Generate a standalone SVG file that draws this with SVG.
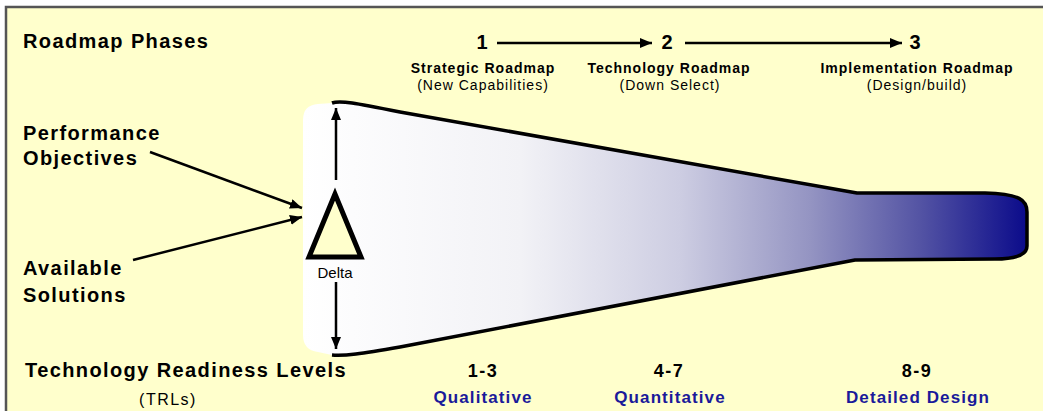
<svg xmlns="http://www.w3.org/2000/svg" width="1043" height="411" viewBox="0 0 1043 411">
<style>
.h{font-family:"Liberation Sans",Arial,sans-serif;font-weight:bold;font-size:20px;letter-spacing:1.4px;fill:#000}
.num{font-family:"Liberation Sans",Arial,sans-serif;font-weight:bold;font-size:20px;fill:#000;text-anchor:middle}
.sb{font-family:"Liberation Sans",Arial,sans-serif;font-weight:bold;font-size:14px;letter-spacing:1px;fill:#000;text-anchor:middle}
.sr{font-family:"Liberation Sans",Arial,sans-serif;font-size:14px;letter-spacing:1px;fill:#000;text-anchor:middle}
.trl{font-family:"Liberation Sans",Arial,sans-serif;font-weight:bold;font-size:18px;letter-spacing:1.5px;fill:#000;text-anchor:middle}
.blue{font-family:"Liberation Sans",Arial,sans-serif;font-weight:bold;font-size:17px;letter-spacing:1.1px;fill:#1A1A9A;text-anchor:middle}
.conn{stroke:#000;stroke-width:2.5;fill:none}
</style>
<defs>
<marker id="ah" markerUnits="userSpaceOnUse" markerWidth="12" markerHeight="10" refX="12" refY="5" orient="auto">
<path d="M0,0 L12,5 L0,10 Z" fill="#000"/>
</marker>
<linearGradient id="fun" gradientUnits="userSpaceOnUse" x1="303" y1="0" x2="1028" y2="0">
<stop offset="0" stop-color="#FFFFFF"/>
<stop offset="0.3" stop-color="#F2F2F6"/>
<stop offset="0.52" stop-color="#CDCDE2"/>
<stop offset="0.7" stop-color="#9494C2"/>
<stop offset="0.85" stop-color="#5454A4"/>
<stop offset="1" stop-color="#0A0A8A"/>
</linearGradient>
</defs>
<rect x="0" y="0" width="1043" height="411" fill="#FFFFFF"/>
<rect x="6" y="7" width="1050" height="420" fill="#FFFFCC" stroke="#555555" stroke-width="2.5"/>

<g id="funnel">
<path d="M332,103 C340,100 355,103 400,112 L857,193 L985,193 C1020,194 1027,200 1027,212 L1027,246 C1027,255 1015,259 995,259 L855,260 L400,347 C360,354 345,356 332,355 L318,352 Q303,350 303,335 L303,120 Q303,105 318,104 Z" fill="url(#fun)"/>
<path d="M332,103 C340,100 355,103 400,112 L857,193 L985,193 C1020,194 1027,200 1027,212 L1027,246 C1027,255 1015,259 995,259 L855,260 L400,347 C360,354 345,356 332,355" fill="none" stroke="#000" stroke-width="3.5" stroke-linejoin="round"/>
</g>

<g id="delta">
<polygon points="335,194 309,257 361,257" fill="#FFFFCC" stroke="#000" stroke-width="5"/>
<text x="335" y="278" font-family="'Liberation Sans',Arial,sans-serif" font-size="15" text-anchor="middle" fill="#000">Delta</text>
</g>

<g id="title-phases"><text class="h" x="23" y="48">Roadmap Phases</text></g>
<g id="phase1">
<text class="num" x="482" y="49">1</text>
<text class="sb" x="483" y="73">Strategic Roadmap</text>
<text class="sr" x="483" y="90">(New Capabilities)</text>
</g>
<g id="phase2">
<text class="num" x="667" y="49">2</text>
<text class="sb" x="669" y="73">Technology Roadmap</text>
<text class="sr" x="670" y="90">(Down Select)</text>
</g>
<g id="phase3">
<text class="num" x="915" y="49">3</text>
<text class="sb" x="917" y="73">Implementation Roadmap</text>
<text class="sr" x="917" y="90">(Design/build)</text>
</g>

<g id="perf"><text class="h" x="23" y="140">Performance</text><text class="h" x="23" y="165">Objectives</text></g>
<g id="avail"><text class="h" x="23" y="275">Available</text><text class="h" x="23" y="302">Solutions</text></g>
<g id="trl-title">
<text class="h" x="25" y="377">Technology Readiness Levels</text>
<text x="168" y="405" font-family="'Liberation Sans',Arial,sans-serif" font-size="16" letter-spacing="1.5" text-anchor="middle" fill="#000">(TRLs)</text>
</g>
<g id="trl1"><text class="trl" x="483" y="377">1-3</text><text class="blue" x="483" y="403">Qualitative</text></g>
<g id="trl2"><text class="trl" x="669" y="377">4-7</text><text class="blue" x="670" y="403">Quantitative</text></g>
<g id="trl3"><text class="trl" x="917" y="377">8-9</text><text class="blue" x="918" y="403">Detailed Design</text></g>

<g id="connectors">
<line class="conn" x1="497" y1="43" x2="652" y2="43" marker-end="url(#ah)"/>
<line class="conn" x1="685" y1="43" x2="902" y2="43" marker-end="url(#ah)"/>
<line class="conn" x1="150" y1="152" x2="302" y2="208" marker-end="url(#ah)"/>
<line class="conn" x1="133" y1="260" x2="302" y2="217" marker-end="url(#ah)"/>
<line class="conn" x1="336" y1="180" x2="336" y2="108" marker-end="url(#ah)"/>
<line class="conn" x1="336" y1="282" x2="336" y2="349" marker-end="url(#ah)"/>
</g>
</svg>
